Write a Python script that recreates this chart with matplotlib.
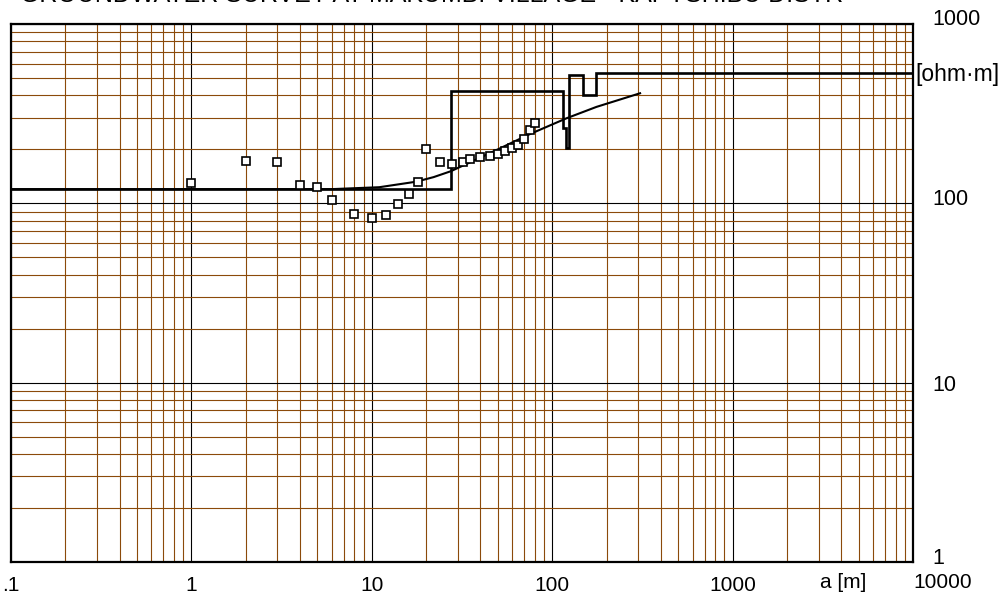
import matplotlib
matplotlib.use("Agg")
import matplotlib.pyplot as plt
from matplotlib.ticker import FixedLocator, NullFormatter
from matplotlib.transforms import ScaledTranslation
import numpy as np

plt.rcParams['font.family'] = ['Liberation Sans', 'DejaVu Sans']

# observed apparent resistivity (squares)
a_obs = [1, 2, 3, 4, 5, 6, 8, 10, 12, 14, 16, 18, 20, 24, 28, 32, 35, 40, 45, 50, 55, 60, 65, 70, 75, 80]
rho_obs = [130, 172, 169, 126, 123, 105, 87, 83, 86, 99, 113, 132, 200, 169, 166, 171, 176, 181, 183, 188, 196, 204, 211, 228, 255, 281]

# layered model (step line)
model_edges = [0.1, 27.4, 115, 119, 124.4, 147.6, 174, 10000]
model_rho = [120, 425, 262, 203, 519, 402, 531]

# calculated curve
curve_a = [0.1, 1, 3, 6, 11, 17.6, 22, 27.4, 40, 50, 75, 120, 176, 307]
curve_rho = [120, 120, 120, 120, 123, 132, 140, 151, 180, 200, 243, 298, 345, 411]

x_ticks = [0.1, 1, 10, 100, 1000]
x_ticklabels = ['.1', '1', '10', '100', '1000']
y_ticks = [1, 10, 100, 1000]
y_ticklabels = ['1', '10', '100', '1000']

title = 'GROUNDWATER SURVEY AT MAKUMBI VILLAGE - KAPYSHIBU DISTR'

W, H = 1006, 605
fig = plt.figure(figsize=(W / 100, H / 100), dpi=100)
ax = fig.add_axes([11 / W, 1 - 562 / H, (913 - 11) / W, (562 - 24) / H])
ax.set_xscale('log')
ax.set_yscale('log')
ax.set_xlim(0.1, 10000)
ax.set_ylim(1, 1000)

brown = '#8B4A0A'
minor_x = [m * 10.0 ** e for e in range(-1, 4) for m in range(2, 10)]
minor_y = [m * 10.0 ** e for e in range(0, 3) for m in range(2, 10)]
ax.xaxis.set_minor_locator(FixedLocator(minor_x))
ax.yaxis.set_minor_locator(FixedLocator(minor_y))
ax.xaxis.set_minor_formatter(NullFormatter())
ax.yaxis.set_minor_formatter(NullFormatter())
ax.grid(True, which='minor', color=brown, linewidth=0.8)
ax.grid(True, which='major', color='black', linewidth=0.8)
ax.set_axisbelow(True)

ax.set_xticks(x_ticks)
ax.set_xticklabels(x_ticklabels)
ax.set_yticks(y_ticks)
ax.set_yticklabels(y_ticklabels)
ax.yaxis.tick_right()
ax.tick_params(which='both', length=0)
ax.tick_params(axis='x', pad=10, labelsize=15)
ax.tick_params(axis='y', pad=14, labelsize=15.5)
y_offsets_px = [6, 0, 6, 7]
for lab, off in zip(ax.get_yticklabels(), y_offsets_px):
    lab.set_horizontalalignment('left')
    lab.set_transform(lab.get_transform() + ScaledTranslation(0, off / 100, fig.dpi_scale_trans))

for sp in ax.spines.values():
    sp.set_linewidth(1.6)
    sp.set_color('black')

ax.stairs(model_rho, edges=model_edges, baseline=None, color='black', linewidth=1.9, zorder=3)
ax.plot(curve_a, curve_rho, color='black', linewidth=1.5, zorder=3)
ax.plot(a_obs, rho_obs, linestyle='none', marker='s', markersize=5.8,
        markerfacecolor='white', markeredgecolor='black', markeredgewidth=1.2, zorder=4)

fig.text(843 / W, 1 - 583 / H, 'a [m]', ha='center', va='center', fontsize=15)
fig.text(943 / W, 1 - 583 / H, '10000', ha='center', va='center', fontsize=15)
fig.text(915 / W, 1 - 74 / H, '[ohm\u00b7m]', ha='left', va='center', fontsize=16.5)
fig.text(20 / W, 1 - 2.5 / H, title, ha='left', va='baseline', fontsize=18)

fig.savefig('out.png', dpi=100)
